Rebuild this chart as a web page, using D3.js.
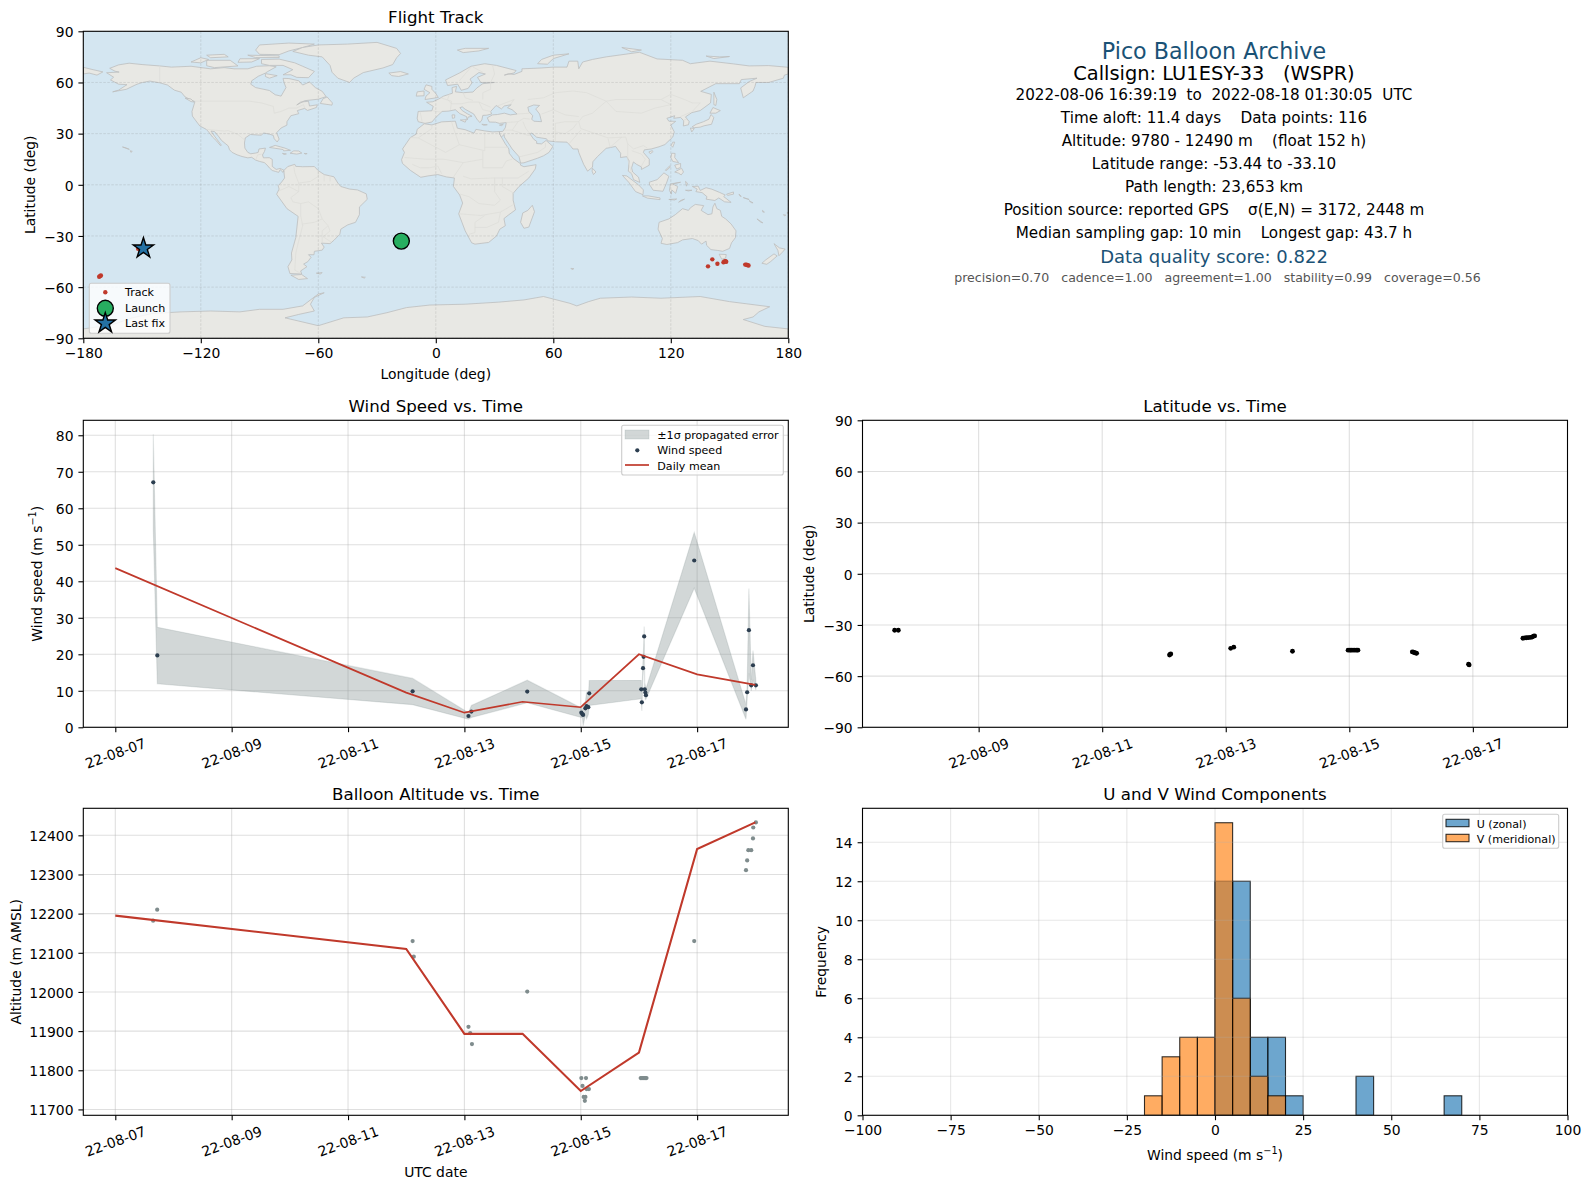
<!DOCTYPE html>
<html>
<head>
<meta charset="utf-8">
<script src="https://cdn.jsdelivr.net/npm/d3@7/dist/d3.min.js"></script>
<style>
  html, body { margin: 0; padding: 0; background: #fff; }
  text { font-family: "DejaVu Sans", sans-serif; }
</style>
</head>
<body>
<script>
// ---- flight track (lon / lat) ----
var trackLon = [-171.9, -171.4, -171.0, -152, 139, 141.2, 143.8, 146.9, 147.4, 147.9, 148.3, 158, 158.7, 159.2, 159.7];
var trackLat = [-53.9, -53.5, -53.2, -37.5, -47.8, -43.7, -46.3, -45.4, -45.0, -44.8, -45.1, -46.8, -46.9, -47.1, -47.3];
var launchPos = [-17.6, -33.0];
var lastPos = [-149.3, -37.2];

// ---- wind speed, days after 2022-08-07 ----
var windDay = [0.653, 0.722, 5.11, 6.07, 6.12, 7.08, 8.01, 8.03, 8.04, 8.08, 8.10, 8.13, 8.145, 9.04, 9.05, 9.07, 9.08, 9.09, 9.10, 9.11, 9.12, 9.95, 10.84, 10.86, 10.89, 10.93, 10.96, 11.01];
var windVal = [67.1, 19.7, 9.86, 3.1, 4.3, 9.8, 4.0, 3.6, 3.4, 5.2, 5.8, 5.5, 9.3, 10.4, 6.85, 16.2, 19.3, 24.9, 10.4, 9.5, 8.8, 45.7, 4.9, 9.6, 26.6, 11.5, 17.0, 11.5];
var windHi = [80.3, 27.4, 13.4, 4.0, 6.0, 12.9, 5.3, 4.6, 6.4, 7.0, 9.7, 7.5, 12.8, 12.9, 9.2, 18.5, 22, 27.6, 12.2, 11.4, 10.5, 53.4, 6.2, 11.5, 38.0, 13.0, 21.0, 12.8];
var windLo = [54.0, 11.9, 6.2, 2.2, 2.7, 6.7, 2.7, 2.6, 0.4, 3.4, 2.3, 3.5, 6.0, 7.8, 4.5, 13.9, 16.6, 22.2, 8.6, 7.6, 7.7, 38.1, 2.2, 7.8, 14.8, 10.0, 13.0, 10.2];
var meanDay = [0, 5, 6, 7, 8, 9, 10, 11];
var windMean = [43.6, 9.5, 4.0, 7.0, 5.5, 20.0, 14.5, 11.6];

// ---- latitude ----
var latDay = [0.64, 0.70, 5.09, 5.10, 5.11, 6.08, 6.13, 7.08, 7.98, 8.01, 8.03, 8.06, 8.09, 8.12, 8.14, 9.02, 9.04, 9.06, 9.08, 9.09, 9.93, 9.94, 10.81, 10.84, 10.87, 10.90, 10.93, 10.96, 10.98, 11.0];
var latVal = [-33.1, -33.1, -47.6, -47.2, -47.0, -43.7, -43.0, -45.4, -44.8, -44.8, -44.8, -44.8, -44.8, -44.8, -44.8, -45.8, -46.0, -46.3, -46.5, -46.6, -53.0, -53.4, -37.8, -37.6, -37.5, -37.4, -37.3, -37.1, -36.6, -36.4];

// ---- altitude ----
var altDay = [0.65, 0.72, 5.11, 5.13, 6.07, 6.10, 6.13, 7.08, 8.01, 8.09, 8.03, 8.10, 8.14, 8.05, 8.08, 8.07, 9.03, 9.05, 9.07, 9.09, 9.11, 9.13, 9.95, 10.84, 10.86, 10.88, 10.93, 10.96, 10.965, 11.01];
var altVal = [12182, 12210, 12130, 12090, 11911, 11895, 11867, 12001, 11780, 11780, 11760, 11752, 11752, 11732, 11732, 11722, 11780, 11780, 11780, 11780, 11780, 11780, 12130, 12311, 12336, 12362, 12362, 12392, 12420, 12433];
var altMean = [12195, 12110, 11893, 11893, 11747, 11845, 12365, 12433];

// ---- histogram, 5 m/s bins ----
var binStart = [-20, -15, -10, -5, 0, 5, 10, 15, 20, 40, 65];
var uCount = [0, 0, 0, 0, 12, 12, 4, 4, 1, 2, 1];
var vCount = [1, 3, 4, 4, 15, 6, 2, 1, 0, 0, 0];
var binWidth = 5;

// ---- text panel ----
var infoLines = [
  "2022-08-06 16:39:19  to  2022-08-18 01:30:05  UTC",
  "Time aloft: 11.4 days    Data points: 116",
  "Altitude: 9780 - 12490 m    (float 152 h)",
  "Latitude range: -53.44 to -33.10",
  "Path length: 23,653 km",
  "Position source: reported GPS    \u03c3(E,N) = 3172, 2448 m",
  "Median sampling gap: 10 min    Longest gap: 43.7 h"
];
var scoreLine = "precision=0.70   cadence=1.00   agreement=1.00   stability=0.99   coverage=0.56";

// ---- coastlines, rough lon/lat outlines ----
var land = [
  // north america
  [[-156.6,71.3],[-162,70.3],[-166.5,68.3],[-163.8,66.6],[-161.7,66.1],[-168.1,65.7],[-164.5,63.1],[-166.1,61.5],[-162,59],[-157.7,58.7],[-162,55.5],[-165,54.5],[-158,56],[-153.5,58.5],[-151.8,59.3],[-149.7,60],[-146,60.8],[-141,59.8],[-137,58.5],[-133.5,55.5],[-130,54.3],[-128,51.5],[-125,49.8],[-123,48.8],[-124.5,43],[-124.3,40.3],[-122.5,37.5],[-120.5,34.5],[-117.2,32.5],[-116,31],[-114,28],[-112,25.8],[-110,23],[-109.5,23.2],[-111,25.5],[-113,28.5],[-114.8,31.5],[-113,31.2],[-111,28.5],[-109.4,26],[-106,22.8],[-105.3,20.5],[-104,19],[-101.5,17.6],[-99,16.6],[-96,15.8],[-94,16.1],[-92,14.5],[-90,13.7],[-87.5,13],[-85.7,11],[-84.9,9.8],[-83.5,8.4],[-81.8,7.8],[-80.2,7.3],[-79.5,8.9],[-78,7.3],[-77.5,8.5],[-79.5,9.6],[-81.5,9],[-83.5,10.8],[-83.5,14.9],[-85,15.9],[-88,15.8],[-88.5,17.5],[-87.5,19.5],[-87,21.5],[-90.3,21],[-90.7,19],[-92,18.6],[-94.5,18.2],[-96,19],[-97.5,21.5],[-97.7,24.5],[-97.3,27.5],[-94.7,29.5],[-91,29.2],[-89,29.1],[-88,30.4],[-85,29.7],[-83,29],[-82.5,27],[-81,25.1],[-80,26.8],[-81.3,30.5],[-79,33.3],[-76,35],[-76,37],[-74,40.5],[-70,41.7],[-70.7,43.5],[-67,44.8],[-65.5,43.6],[-61,45.3],[-60.5,46.9],[-64.5,46.2],[-65,49],[-69,48.5],[-71,46.8],[-67,49.3],[-60,50.2],[-56,51.7],[-58,54.8],[-61.5,57],[-64.5,60.3],[-68,58.5],[-70,61],[-75,62.3],[-78,62.4],[-77.5,60],[-76.5,57],[-79,52],[-82,52.8],[-85,55.3],[-92,57],[-94.5,59],[-94,61],[-90.7,63.6],[-87,65.5],[-86,66.3],[-81.5,69.2],[-85,69.8],[-91.5,69.5],[-96,68],[-103,68],[-108,68.7],[-115,68],[-125,69.5],[-135,69],[-141,69.7],[-150,70.5]],
  // canadian islands
  [[-80,73.7],[-72,71.5],[-68,69.5],[-62,66.5],[-65,62.8],[-71,63],[-74,64.5],[-78,64.5],[-73,67.5],[-78,70],[-85,70],[-89,71],[-89,73.5]],
  [[-117,73],[-105,73],[-101,69.7],[-113,68.7],[-117,69.8]],
  [[-125,72],[-120,74.5],[-116,73.5],[-120,71.5]],
  [[-90,76.5],[-80,76.3],[-75,78.5],[-68,80.5],[-62,82.5],[-75,83.1],[-90,82],[-92,79]],
  [[-96,76],[-80,75.6],[-80,74.6],[-92,74.6]],
  [[-117,76],[-108,76.5],[-106,75],[-115,74.5]],
  [[-100,73.9],[-90,74],[-94,72],[-101,71.8]],
  [[-87,65.2],[-81,64],[-85,62.5],[-87,63.5]],
  [[-59,47.7],[-53,46.7],[-52.8,48],[-55.5,51.5],[-57.5,50.5]],
  [[-128,50.8],[-125,48.8],[-123.5,48.5],[-125,50.3]],
  // greenland, iceland, caribbean, hawaii
  [[-73,78.2],[-65,76],[-58,75],[-54,70],[-53,66],[-50,62.5],[-44,60],[-42,62.5],[-37,65.8],[-27,68.5],[-22,70.5],[-20,74.5],[-18,77],[-20,80],[-30,83.5],[-45,82.5],[-60,82],[-68,80.5]],
  [[-24,65.5],[-18,66.4],[-14,65],[-19,63.5],[-22.5,64]],
  [[-84.9,21.9],[-82,23.1],[-77,21.5],[-74.2,20.2],[-77.7,19.9],[-78,20.7]],
  [[-74.4,18.5],[-72.5,19.9],[-70,19.8],[-68.4,18.6],[-71,18]],
  [[-78.3,18.4],[-76.3,18.1],[-77.5,17.8]],
  [[-67.2,18.4],[-65.7,18.3],[-66.5,18]],
  [[-156,20],[-155,19.6],[-155.7,19]],
  [[-160,22.2],[-158,21.6],[-156.5,20.8],[-157.5,21.1]],
  // south america
  [[-77.5,8.5],[-75.6,10.7],[-72,12],[-71.5,10.8],[-68,10.6],[-62,10.7],[-60,8.3],[-57,6],[-52,4.7],[-50,1],[-48.5,-1],[-44,-2.5],[-40,-3],[-35.5,-5.3],[-35,-8.5],[-39,-13],[-39,-17.5],[-41,-22],[-45,-23.5],[-48.5,-26],[-49,-29],[-52,-32.5],[-54,-34.5],[-58.4,-34.2],[-57,-36.5],[-58,-38.3],[-62,-39],[-62.2,-41],[-65,-41],[-63.7,-42.5],[-65.3,-45],[-67.5,-46.5],[-65.8,-48],[-69,-50.5],[-68.5,-52.3],[-74.5,-52],[-75.5,-48],[-73.5,-44],[-73.7,-40],[-71.5,-31],[-70.3,-18.5],[-76,-14],[-81.3,-5.5],[-80,-2.5],[-80.5,-0.5],[-78.8,1.5],[-77.2,4],[-77.5,7]],
  [[-68.5,-52.6],[-65.5,-55],[-70,-55.5],[-74,-53]],
  [[-61,-51.8],[-58,-51.5],[-59,-52.3]],
  [[-38,-54],[-36,-54.2],[-36.5,-54.7]],
  // africa
  [[-5.9,35.8],[-2,35.1],[3,36.9],[10,37.3],[11,33.2],[15,32.3],[19.5,30.3],[20.5,32.5],[25,31.6],[29,31],[32.5,31.2],[32.5,30],[34,27],[35.5,24],[37.3,21],[37.5,18.5],[39.5,15.5],[43.2,12.4],[43.3,11.5],[45,10.6],[51.2,11.8],[50.8,9.3],[47.5,4],[42.5,-1],[39.5,-5],[39.5,-9],[40.7,-14.7],[37,-17.8],[34.8,-19.8],[35.5,-24],[32.7,-26],[31,-30],[27,-33.8],[20,-34.8],[18.3,-34],[15,-27],[11.7,-17],[13.7,-10.7],[12.2,-6],[9,-1],[9.5,4],[5.5,4.6],[1,6],[-4,5.2],[-7.7,4.4],[-13,8.5],[-17,12.5],[-17.5,14.7],[-16,19],[-17,21],[-13,27.7],[-10,29.7],[-9.5,32.5]],
  [[49.3,-12],[50.4,-15.8],[47.5,-24.8],[45,-25.5],[43.3,-22],[44.4,-16.5],[47,-15]],
  // eurasia
  [[-9,37],[-9.5,39],[-9,43],[-2,43.4],[-1.3,46],[-4.7,48.4],[-1.5,48.7],[1.5,50.3],[4,52],[8.5,53.7],[8.3,57],[10.6,57.7],[10,54.5],[14,54],[19,54.4],[21,56.8],[24,59.3],[30,60],[23,60],[21.3,63],[25.3,65],[22,65.8],[17.5,62],[18.5,59.8],[16.5,56.5],[13,55.4],[11.2,59],[6,58.2],[5,61.5],[12,65.5],[18,69.5],[25,71],[31,70],[41,67],[40,65.6],[35,64.3],[37,65.1],[40,64.7],[44,66.5],[44,68],[54,68.5],[60,69],[67,69],[68,72.5],[72.5,72.5],[73,68],[75,72],[80,73.5],[87,75],[104,77.7],[113,73.8],[126,73],[130,71],[140,72.5],[152,70.9],[160,69.7],[170,69.9],[180,68.9],[180,65],[178,64.3],[177.5,62.5],[170,60],[163.5,60],[163,57.8],[162,55],[157,51],[155.7,56.8],[160,60.5],[164,62.5],[156,61.7],[155,59.3],[143,59.3],[135.3,54.8],[140.7,53],[140.3,48],[135,43.5],[130.7,42.3],[127.5,39.8],[129.4,37],[129,35.2],[126.4,34.5],[126.6,37.5],[125,39.5],[121.5,39],[122,40.5],[118,39],[119,37.3],[122.5,37.2],[120,35],[121.8,31],[121,28],[117,23.6],[114,22.3],[110,21],[106.5,20.5],[106,19],[109,15],[109,11.5],[105,9],[105,10.5],[102.5,12],[100.9,13.4],[100,10],[100.5,7.5],[103.5,4.5],[104.2,1.4],[101,3],[100,6.5],[98.3,8],[98.7,14],[97.5,16.5],[94.3,16],[94.4,18.5],[91.8,22.5],[89,21.8],[87,21.4],[82.5,16.5],[80.2,13.5],[80,10.3],[77.5,8],[75.5,12],[73,19],[72.6,21],[70,21],[69,22.5],[67,25],[61.5,25.2],[57.3,25.7],[56.5,27],[51.5,27.9],[49,30.3],[48,30],[50,26.7],[51.5,25.5],[51.5,24.2],[54,24],[56.3,26],[59.8,22.5],[57.8,19],[55,17],[52,15.6],[45,12.9],[43.3,12.7],[42.5,16.5],[39,21],[35,28],[34.9,29.5],[33.5,28],[32.6,29.9],[32.5,31.2],[34.2,31.3],[35.5,33.5],[36,36.5],[32.5,36],[30.5,36.7],[27.3,36.8],[26.3,39.3],[29,41],[31.5,41.2],[35,42],[38,41],[41.5,41.5],[39,44],[36.6,45.2],[38.5,47],[35,46.2],[33.5,44.5],[30.8,46.5],[28,43],[28.5,41.5],[26,40.8],[24,40.7],[23.5,38],[22.5,36.5],[21,38.5],[19.4,41.5],[15,44.3],[13.5,45.7],[12.3,45.2],[13.5,43.5],[16,41.7],[18.5,40.2],[16.5,39.7],[16,38],[15.7,40],[12.3,41.7],[10,44],[6.5,43.2],[3.2,43],[0,39.5],[-2,36.8],[-5.5,36]],
  [[-180,68.9],[-175,67.5],[-170,66.2],[-173,64.3],[-177,65.5],[-180,65]],
  // europe and arctic islands
  [[-5.5,50],[1.3,51.2],[0,53.5],[-2,56],[-2,57.7],[-5,58.6],[-6,56],[-3,54],[-5,52]],
  [[-10,52],[-6,52.2],[-6,55],[-9.5,54.5]],
  [[14,77.5],[22,78.5],[27,80],[15,80],[11,79]],
  [[52,71],[57,70.7],[60,74],[68,76.8],[60,76],[54,73.5]],
  [[95,80.5],[105,79],[100,78]],
  [[138,75.5],[145,75],[150,75.2],[142,74]],
  [[12.5,38],[15.6,38.2],[15,36.7]],
  [[8.3,41],[9.7,41],[9.6,39.2],[8.5,39]],
  [[23.5,35.5],[26.3,35.2],[24.5,34.9]],
  [[32.5,35],[34.5,35.6],[33.7,34.7]],
  // asia islands
  [[142,54.3],[143.5,50],[143,46.5],[142,47],[142,51]],
  [[130.9,34],[133,35.5],[136.7,37],[139.5,38.5],[140.5,41.2],[142,39.5],[140.8,35.5],[137,34.6],[135,33.8],[132,33.5]],
  [[140,42],[141.5,45.3],[145.3,43.5],[143,42]],
  [[130,33.3],[132,33],[130.7,31]],
  [[120.2,23],[121,25],[122,25],[121,22]],
  [[108.8,19.3],[110.5,20],[111,19.5],[109.5,18.2]],
  [[80,9.7],[81.8,7.5],[80.5,6],[79.8,8]],
  [[120.5,18.5],[122.2,18.4],[122,16],[124,13],[121,13.7],[120,16]],
  [[122,7.5],[125.5,9.7],[126.5,7.5],[125.3,5.8],[124,6.8]],
  [[122,11.5],[125,12.5],[125,10.2],[123,9.2]],
  [[117.2,8.5],[119.5,11.2],[119.7,10.5],[118,8.5]],
  [[109,1.5],[113,3],[116.5,7],[119,5],[117.8,1],[116,-3.8],[111,-3.2],[109.2,0]],
  [[95.3,5.5],[97.5,5.2],[103.5,0],[106,-3],[105.8,-5.8],[102,-4],[98.5,1.5]],
  [[105.5,-6.5],[108.5,-6.5],[114.5,-7.7],[114.5,-8.7],[108,-7.8]],
  [[119.8,0.5],[125,1.5],[121,0.5],[123.5,-1],[122.5,-5],[120.5,-3],[120.3,-5.5],[119.3,-3.3]],
  [[124,-10.2],[127,-8.4],[125,-9.2]],
  [[119,-8.6],[123,-8.3],[122,-8.9]],
  [[127.5,2],[128.5,1],[128,-0.8]],
  [[127.5,-3.2],[130.8,-3.2],[129,-3.6]],
  // oceania
  [[131,-1],[134,-0.8],[135,-3.3],[138,-1.7],[141,-2.6],[145,-4.5],[147.8,-6],[147,-6.9],[150.8,-10.3],[147.5,-10],[144.5,-7.7],[142.5,-9.2],[138,-8.4],[138.5,-7],[136,-4.6],[132.8,-4],[133.5,-2.5]],
  [[148.5,-5.5],[152,-4.2],[152,-5.5],[149,-6.2]],
  [[154.8,-5.5],[156,-6.8],[155.5,-6.8]],
  [[157,-7.5],[160,-8.6],[159,-8.3]],
  [[160,-9.3],[162,-10.6],[161,-10.4]],
  [[164,-20],[167,-22.3],[166,-22]],
  [[166.8,-15],[167.8,-16],[167,-16]],
  [[177.5,-17.5],[178.7,-17.8],[178,-18.2]],
  [[179.3,-16.5],[180,-16.2],[180,-16.8]],
  [[114,-22],[113.5,-26],[115.7,-31.5],[115,-34.3],[118,-35],[123.5,-33.9],[126,-32.3],[131,-31.5],[134,-32.7],[135.7,-34.8],[138,-33],[138.3,-35.5],[140.5,-38],[144,-38.5],[146.5,-39],[150,-37.3],[151,-34],[153,-31],[153.3,-27],[150.8,-23],[148,-20],[146,-18.5],[145.3,-15],[143.5,-14],[142.5,-10.8],[141.5,-13],[141,-17],[139,-17.5],[135.5,-15],[136.8,-12.2],[132.5,-11.5],[130,-13.5],[129,-15],[126,-14],[122.3,-17.5],[119,-20]],
  [[144.7,-40.7],[148.3,-40.9],[148,-43],[146,-43.6]],
  [[172.7,-34.5],[175.5,-37],[178.4,-37.7],[177,-39.5],[175.2,-41.6],[174.7,-38.5]],
  [[172.7,-40.5],[174.3,-41.7],[171,-45],[169,-46.6],[166.5,-46],[168.5,-44]],
  [[69,-49],[70.5,-49.2],[69.5,-49.7]],
  // antarctica
  [[-180,-84.5],[-165,-82],[-155,-78],[-145,-75.5],[-130,-74.5],[-115,-74],[-100,-74.5],[-90,-73],[-78,-73],[-68,-71],[-60,-64],[-57,-63.3],[-62,-66],[-64,-70],[-62,-74],[-70,-76],[-77,-78],[-60,-82.6],[-47,-78],[-35,-77.5],[-25,-75],[-15,-72],[-3,-70.5],[15,-70],[32,-68.8],[45,-67.5],[55,-65.5],[68.5,-69.5],[72,-71],[78,-68.5],[84,-66.5],[100,-65.8],[115,-66.5],[135,-65.5],[150,-68.5],[170.5,-71.5],[165,-74.5],[162,-77.5],[157,-79],[168,-83],[180,-84.5],[180,-90],[-180,-90]]
];
var caspian = [[47,45.5],[50,46.8],[53,46.5],[51,44.5],[53,41.5],[54,37],[50,37.3],[49,38.5],[49.5,40.5],[47.5,43]];
var borders = [
  [[-141,69.7],[-141,60]], [[-123,49],[-95,49],[-89,48],[-83,46],[-82.5,42],[-79,43],[-75,45],[-71,45],[-67.5,47],[-67,45]],
  [[-117,32.5],[-108,31.5],[-106,31.8],[-101,29.5],[-97.3,26]], [[-92,14.5],[-91,17.5],[-89,18]],
  [[-60,5],[-64,2],[-70,1],[-70,-4],[-74,-7.5],[-73,-10],[-69,-11],[-65,-10],[-60,-14],[-58,-20],[-55,-24],[-54,-27],[-57.5,-30.5],[-53.5,-33.5]],
  [[-69,-18],[-68,-24],[-70,-33],[-71.5,-40],[-72,-50],[-69,-52]], [[-69,-11],[-69,-18]], [[-58,-20],[-62,-22],[-68,-23]],
  [[-55,-24],[-58,-27],[-58,-34]], [[-70,1],[-72,7],[-72.5,11]], [[-80,-3.5],[-75,-1],[-70,-4]], [[-60,5],[-60,8]], [[-57,2],[-57,6]], [[-54,2],[-54,5.5]],
  [[-9,27.5],[-2,33],[-2,35]], [[-13,27.7],[-9,27.5],[5,19],[12,23.5],[10,30],[8,37]], [[12,23.5],[25,20],[25,31.5]], [[25,22],[37,22]], [[24,20],[24,10],[34,10],[36,14],[39,15]],
  [[-16,16],[-5,15],[4,15],[14,13],[24,15]], [[14,13],[9,4.5]], [[-12,12],[-8,10],[-3,10],[1,11],[3,6.5]], [[14,5],[18,3.5],[30,4],[34,4],[42,4],[47.5,8]], [[34,4],[34,-1],[40,-5]],
  [[12.5,-5.5],[17,-7],[22,-11],[30,-12],[33,-9],[30,-4],[30,4]], [[12,-17],[23,-18],[33,-16],[40.5,-11]], [[17,-29],[20,-28],[20,-22],[25,-18]], [[20,-25],[26,-25],[32,-22],[33,-16]],
  [[-8,43],[-7,37]], [[-1.7,43.4],[3,42.5]], [[2.5,51],[8,49],[7.5,44]], [[7,53.5],[6,50],[8,47.5],[13,47.5],[17,48.5],[22,48.5],[28,45.5]], [[14,54],[15,51],[19,49.5]], [[24,50],[24,54],[28,56],[28,60]], [[22,48.5],[24,44],[28,43]], [[31,46],[40,50],[38,47]],
  [[28,60],[30,65],[29,70]], [[19,69],[24,66]], [[12,61],[18,69]],
  [[41.5,41.5],[48,42]], [[36,36.5],[42,37],[45,39],[48,38.5]], [[44.5,37],[46,33],[48,30]], [[35,32],[39,32],[42,37]], [[39,32],[47,29],[48,29]], [[43,16.5],[52,19],[56,22],[56,24.5]], [[61,25],[61,31],[61,36]],
  [[61,36],[66,37],[73,37],[75,40],[80,42],[87,49],[92,50],[98,50],[106,50],[115,50],[120,53],[127,50],[131,48],[135,48],[131,43]], [[47,50],[55,51],[61,54],[70,55],[77,54],[87,49]], [[54,41.5],[60,44],[66,41],[73,40]], [[87,49],[92,43],[105,42],[112,45],[120,47],[115,50]],
  [[73,37],[74,33],[79,31],[88,27.5],[97,28],[98,24],[101,21],[106,23],[108,21.5]], [[61,31],[66,30],[70,33],[72,36]], [[68,24],[71,28],[74,32]], [[88,27],[89,22],[92,25],[95,28]], [[98,24],[98,15],[100,6.5]], [[100,20],[105,18],[107,15],[105,11]], [[125,40],[130,42.5]], [[126.5,38],[128.5,38.5]]
];

// ---- layout ----
var W = 1590, H = 1189;
var panelW = 705, panelH = 307;
var leftX = 83.3, rightX = 862.5;
var row1 = 31.3, row2 = 420.3, row3 = 808.3;

var svg = d3.select("body").append("svg").attr("width", W).attr("height", H).style("display", "block");

var dayToDate = function(d) { return new Date(Date.UTC(2022, 7, 7) + d * 864e5); };
var dateTicks = [0, 2, 4, 6, 8, 10].map(dayToDate);
var fmtDate = d3.utcFormat("%y-%m-%d");

function panel(x0, y0, name) {
  var g = svg.append("g").attr("transform", "translate(" + x0 + "," + y0 + ")").attr("class", name);
  var id = "clip-" + name;
  g.append("clipPath").attr("id", id).append("rect").attr("width", panelW).attr("height", panelH);
  g.plot = g.append("g").attr("clip-path", "url(#" + id + ")");
  return g;
}

function grid(sel, xs, ys, x, y, color, dash, width) {
  sel.selectAll(".gx").data(xs).enter().append("line").attr("class", "gx")
    .attr("x1", x).attr("x2", x).attr("y1", 0).attr("y2", panelH)
    .attr("stroke", color).attr("stroke-width", width).attr("stroke-dasharray", dash);
  sel.selectAll(".gy").data(ys).enter().append("line").attr("class", "gy")
    .attr("y1", y).attr("y2", y).attr("x1", 0).attr("x2", panelW)
    .attr("stroke", color).attr("stroke-width", width).attr("stroke-dasharray", dash);
}

function axes(g, xAxis, yAxis) {
  var ax = g.append("g").attr("transform", "translate(0," + panelH + ")").call(xAxis);
  var ay = g.append("g").call(yAxis);
  [ax, ay].forEach(function(a) {
    a.select(".domain").remove();
    a.selectAll("line").attr("stroke", "#000").attr("stroke-width", 1.1);
    a.selectAll("text").attr("font-family", "DejaVu Sans").attr("font-size", 13.9).attr("fill", "#000");
  });
  ay.selectAll("text").attr("dy", "0.38em");
  g.append("rect").attr("width", panelW).attr("height", panelH)
    .attr("fill", "none").attr("stroke", "#000").attr("stroke-width", 1.1);
  return ax;
}

function rotateDates(ax) {
  ax.selectAll(".tick text")
    .attr("text-anchor", "middle")
    .attr("dy", null)
    .attr("y", 0)
    .attr("transform", "translate(0,27) rotate(-20)")
    .attr("dominant-baseline", "middle");
}

function title(g, txt) {
  g.append("text").attr("x", panelW / 2).attr("y", -8).attr("text-anchor", "middle")
    .attr("font-size", 16.67).attr("fill", "#000").text(txt);
}

function xLabel(x, y, parts) { label(x, y, parts, null); }
function yLabel(x, y, parts) { label(x, y, parts, -90); }
function label(x, y, parts, rot) {
  var t = svg.append("text").attr("text-anchor", "middle").attr("dominant-baseline", "middle")
    .attr("font-size", 13.9).attr("fill", "#000")
    .attr("transform", "translate(" + x + "," + (y + (rot ? 0 : 1)) + ")" + (rot ? " rotate(" + rot + ")" : ""));
  t.append("tspan").text(parts[0]);
  if (parts.length > 1) {
    t.append("tspan").attr("font-size", 9.7).attr("dy", -5).text(parts[1]);
    t.append("tspan").attr("dy", 5).text(parts[2]);
  }
}

function legendBox(g, x, y, w, h) {
  g.append("rect").attr("x", x).attr("y", y).attr("width", w).attr("height", h).attr("rx", 2)
    .attr("fill", "#fff").attr("fill-opacity", 0.8).attr("stroke", "#ccc").attr("stroke-width", 1.1);
}
function legendText(g, x, y, txt) {
  g.append("text").attr("x", x).attr("y", y + 1).attr("dominant-baseline", "middle")
    .attr("font-size", 11.1).attr("fill", "#000").text(txt);
}

// ---- map ----
var mapG = panel(leftX, row1, "map");
var lonScale = d3.scaleLinear().domain([-180, 180]).range([0, panelW]);
var latScale = d3.scaleLinear().domain([-90, 90]).range([panelH, 0]);
var geoLine = d3.line().x(function(d) { return lonScale(d[0]); }).y(function(d) { return latScale(d[1]); });

mapG.plot.append("rect").attr("width", panelW).attr("height", panelH).attr("fill", "#d4e6f1");
mapG.plot.selectAll(".land").data(land).enter().append("path").attr("class", "land")
  .attr("d", function(d) { return geoLine(d) + "Z"; })
  .attr("fill", "#e8e8e4").attr("stroke", "#bcbebe").attr("stroke-width", 0.8).attr("stroke-linejoin", "round");
mapG.plot.selectAll(".border").data(borders).enter().append("path").attr("class", "border")
  .attr("d", geoLine).attr("fill", "none").attr("stroke", "#dcdcd8").attr("stroke-width", 0.7);
mapG.plot.append("path").attr("d", geoLine(caspian) + "Z")
  .attr("fill", "#d4e6f1").attr("stroke", "#bcbebe").attr("stroke-width", 0.8);

var lonTicks = [-180, -120, -60, 0, 60, 120, 180], latTicks = [-90, -60, -30, 0, 30, 60, 90];
grid(mapG.plot, lonTicks, latTicks, lonScale, latScale, "rgba(120,120,120,0.28)", "2.5,1.5", 0.7);

mapG.plot.selectAll(".trk").data(trackLon).enter().append("circle").attr("class", "trk")
  .attr("cx", function(d) { return lonScale(d); })
  .attr("cy", function(d, i) { return latScale(trackLat[i]); })
  .attr("r", 2.2).attr("fill", "#c0392b");

mapG.plot.append("circle").attr("cx", lonScale(launchPos[0])).attr("cy", latScale(launchPos[1]))
  .attr("r", 8).attr("fill", "#27ae60").attr("stroke", "#000").attr("stroke-width", 1.4);
var starSym = d3.symbol().type(d3.symbolStar).size(128);
mapG.plot.append("path").attr("d", starSym)
  .attr("transform", "translate(" + lonScale(lastPos[0]) + "," + latScale(lastPos[1]) + ")")
  .attr("fill", "#2471a3").attr("stroke", "#000").attr("stroke-width", 1.4);

axes(mapG,
  d3.axisBottom(lonScale).tickValues(lonTicks).tickSizeOuter(0).tickSize(4.9).tickPadding(4.9).tickFormat(d3.format("d")),
  d3.axisLeft(latScale).tickValues(latTicks).tickSizeOuter(0).tickSize(4.9).tickPadding(4.9).tickFormat(d3.format("d")));
title(mapG, "Flight Track");

legendBox(mapG, 6, 252, 80.7, 50);
mapG.append("circle").attr("cx", 22).attr("cy", 261).attr("r", 2.2).attr("fill", "#c0392b");
mapG.append("circle").attr("cx", 22).attr("cy", 277).attr("r", 8).attr("fill", "#27ae60").attr("stroke", "#000").attr("stroke-width", 1.4);
mapG.append("path").attr("d", starSym).attr("transform", "translate(22,292)")
  .attr("fill", "#2471a3").attr("stroke", "#000").attr("stroke-width", 1.4);
legendText(mapG, 41.7, 261, "Track");
legendText(mapG, 41.7, 277, "Launch");
legendText(mapG, 41.7, 292, "Last fix");

xLabel(leftX + panelW / 2, 374, ["Longitude (deg)"]);
yLabel(30.9, row1 + panelH / 2, ["Latitude (deg)"]);

// ---- text panel ----
var infoX = 1214;
function info(y, size, color, txt, dx) {
  svg.append("text").attr("x", infoX + (dx || 0)).attr("y", y + 1.5).attr("text-anchor", "middle").attr("dominant-baseline", "middle")
    .attr("font-size", size).attr("fill", color).style("white-space", "pre").text(txt);
}
info(50.5, 22.2, "#1a5276", "Pico Balloon Archive");
info(73, 19.4, "#000", "Callsign: LU1ESY-33   (WSPR)");
var infoY = d3.scaleLinear().domain([0, 6]).range([93.5, 232]);
infoLines.forEach(function(s, i) { info(infoY(i), 15.2, "#000", s); });
info(256.5, 18, "#1a5276", "Data quality score: 0.822");
info(277.3, 12.55, "#555", scoreLine, 3.5);

// ---- time panels ----
var dayDomain = [-0.55, 11.567].map(dayToDate);
var timeX = d3.scaleUtc().domain(dayDomain).range([0, panelW]);

// wind speed
var windG = panel(leftX, row2, "wind");
var windY = d3.scaleLinear().domain([0, 84.1]).range([panelH, 0]);
var windTicks = d3.range(0, 81, 10);
grid(windG.plot, dateTicks, windTicks, timeX, windY, "rgba(176,176,176,0.4)", null, 1.1);
var band = d3.area()
  .x(function(d) { return timeX(dayToDate(windDay[d])); })
  .y0(function(d) { return windY(windLo[d]); })
  .y1(function(d) { return windY(windHi[d]); });
windG.plot.append("path").attr("d", band(d3.range(windDay.length)))
  .attr("fill", "#7f8c8d").attr("fill-opacity", 0.35).attr("stroke", "#7f8c8d").attr("stroke-opacity", 0.2).attr("stroke-width", 1.1);
windG.plot.selectAll(".pt").data(windDay).enter().append("circle").attr("class", "pt")
  .attr("cx", function(d) { return timeX(dayToDate(d)); })
  .attr("cy", function(d, i) { return windY(windVal[i]); })
  .attr("r", 2.1).attr("fill", "#2c3e50");
var windLine = d3.line()
  .x(function(d) { return timeX(dayToDate(meanDay[d])); })
  .y(function(d) { return windY(windMean[d]); });
windG.plot.append("path").attr("d", windLine(d3.range(meanDay.length)))
  .attr("fill", "none").attr("stroke", "#c0392b").attr("stroke-width", 1.7);
var windAx = axes(windG,
  d3.axisBottom(timeX).tickValues(dateTicks).tickSizeOuter(0).tickSize(4.9).tickPadding(4.9).tickFormat(fmtDate),
  d3.axisLeft(windY).tickValues(windTicks).tickSizeOuter(0).tickSize(4.9).tickPadding(4.9));
rotateDates(windAx);
title(windG, "Wind Speed vs. Time");
legendBox(windG, 538.4, 5, 161.6, 49.7);
windG.append("rect").attr("x", 541.7).attr("y", 9.7).attr("width", 24).attr("height", 9)
  .attr("fill", "#7f8c8d").attr("fill-opacity", 0.35).attr("stroke", "#7f8c8d").attr("stroke-opacity", 0.2);
windG.append("circle").attr("cx", 554).attr("cy", 30).attr("r", 2.1).attr("fill", "#2c3e50");
windG.append("line").attr("x1", 541.7).attr("x2", 565.7).attr("y1", 44.7).attr("y2", 44.7)
  .attr("stroke", "#c0392b").attr("stroke-width", 1.7);
legendText(windG, 574, 15, "\u00b11\u03c3 propagated error");
legendText(windG, 574, 30, "Wind speed");
legendText(windG, 574, 45.7, "Daily mean");
yLabel(37.5, row2 + panelH / 2, ["Wind speed (m s", "\u22121", ")"]);

// latitude
var latG = panel(rightX, row2, "lat");
var latTimeX = d3.scaleUtc().domain([0.12, 11.532].map(dayToDate)).range([0, panelW]);
var latY = d3.scaleLinear().domain([-90, 90]).range([panelH, 0]);
var latDateTicks = [2, 4, 6, 8, 10].map(dayToDate);
grid(latG.plot, latDateTicks, latTicks, latTimeX, latY, "rgba(176,176,176,0.4)", null, 1.1);
latG.plot.selectAll(".pt").data(latDay).enter().append("circle").attr("class", "pt")
  .attr("cx", function(d) { return latTimeX(dayToDate(d)); })
  .attr("cy", function(d, i) { return latY(latVal[i]); })
  .attr("r", 2.4).attr("fill", "#000");
var latAx = axes(latG,
  d3.axisBottom(latTimeX).tickValues(latDateTicks).tickSizeOuter(0).tickSize(4.9).tickPadding(4.9).tickFormat(fmtDate),
  d3.axisLeft(latY).tickValues(latTicks).tickSizeOuter(0).tickSize(4.9).tickPadding(4.9).tickFormat(d3.format("d")));
rotateDates(latAx);
title(latG, "Latitude vs. Time");
yLabel(809.5, row2 + panelH / 2, ["Latitude (deg)"]);

// altitude
var altG = panel(leftX, row3, "alt");
var altY = d3.scaleLinear().domain([11685, 12469]).range([panelH, 0]);
var altTicks = d3.range(11700, 12401, 100);
grid(altG.plot, dateTicks, altTicks, timeX, altY, "rgba(176,176,176,0.4)", null, 1.1);
altG.plot.selectAll(".pt").data(altDay).enter().append("circle").attr("class", "pt")
  .attr("cx", function(d) { return timeX(dayToDate(d)); })
  .attr("cy", function(d, i) { return altY(altVal[i]); })
  .attr("r", 2.1).attr("fill", "#7f8c8d");
var altLine = d3.line()
  .x(function(d) { return timeX(dayToDate(meanDay[d])); })
  .y(function(d) { return altY(altMean[d]); });
altG.plot.append("path").attr("d", altLine(d3.range(meanDay.length)))
  .attr("fill", "none").attr("stroke", "#c0392b").attr("stroke-width", 2.1);
var altAx = axes(altG,
  d3.axisBottom(timeX).tickValues(dateTicks).tickSizeOuter(0).tickSize(4.9).tickPadding(4.9).tickFormat(fmtDate),
  d3.axisLeft(altY).tickValues(altTicks).tickSizeOuter(0).tickSize(4.9).tickPadding(4.9).tickFormat(d3.format("d")));
rotateDates(altAx);
title(altG, "Balloon Altitude vs. Time");
yLabel(16.7, row3 + panelH / 2, ["Altitude (m AMSL)"]);
xLabel(leftX + panelW / 2, 1172, ["UTC date"]);

// histogram
var histG = panel(rightX, row3, "hist");
var histX = d3.scaleLinear().domain([-100, 100]).range([0, panelW]);
var histY = d3.scaleLinear().domain([0, 15.74]).range([panelH, 0]);
var histXTicks = d3.range(-100, 101, 25), histYTicks = d3.range(0, 15, 2);
function bars(counts, color) {
  histG.plot.append("g").selectAll("rect").data(binStart).enter().append("rect")
    .filter(function(d, i) { return counts[i] > 0; })
    .attr("x", function(d) { return histX(d); })
    .attr("width", function(d) { return histX(d + binWidth) - histX(d); })
    .attr("y", function(d) { return histY(counts[binStart.indexOf(d)]); })
    .attr("height", function(d) { return panelH - histY(counts[binStart.indexOf(d)]); })
    .attr("fill", color).attr("fill-opacity", 0.65)
    .attr("stroke", "#000").attr("stroke-opacity", 0.8).attr("stroke-width", 1.1);
}
bars(uCount, "#1f77b4");
bars(vCount, "#ff7f0e");
grid(histG.plot, histXTicks, histYTicks, histX, histY, "rgba(176,176,176,0.3)", null, 1.1);
axes(histG,
  d3.axisBottom(histX).tickValues(histXTicks).tickSizeOuter(0).tickSize(4.9).tickPadding(4.9).tickFormat(d3.format("d")),
  d3.axisLeft(histY).tickValues(histYTicks).tickSizeOuter(0).tickSize(4.9).tickPadding(4.9));
title(histG, "U and V Wind Components");
legendBox(histG, 580.2, 6, 116, 34);
histG.append("rect").attr("x", 583.5).attr("y", 11).attr("width", 23).attr("height", 7.4)
  .attr("fill", "#1f77b4").attr("fill-opacity", 0.65).attr("stroke", "#000").attr("stroke-opacity", 0.8).attr("stroke-width", 1.1);
histG.append("rect").attr("x", 583.5).attr("y", 26).attr("width", 23).attr("height", 7.4)
  .attr("fill", "#ff7f0e").attr("fill-opacity", 0.65).attr("stroke", "#000").attr("stroke-opacity", 0.8).attr("stroke-width", 1.1);
legendText(histG, 614.2, 15.7, "U (zonal)");
legendText(histG, 614.2, 30.7, "V (meridional)");
yLabel(821.5, row3 + panelH / 2, ["Frequency"]);
xLabel(rightX + panelW / 2, 1155, ["Wind speed (m s", "\u22121", ")"]);
</script>
</body>
</html>
